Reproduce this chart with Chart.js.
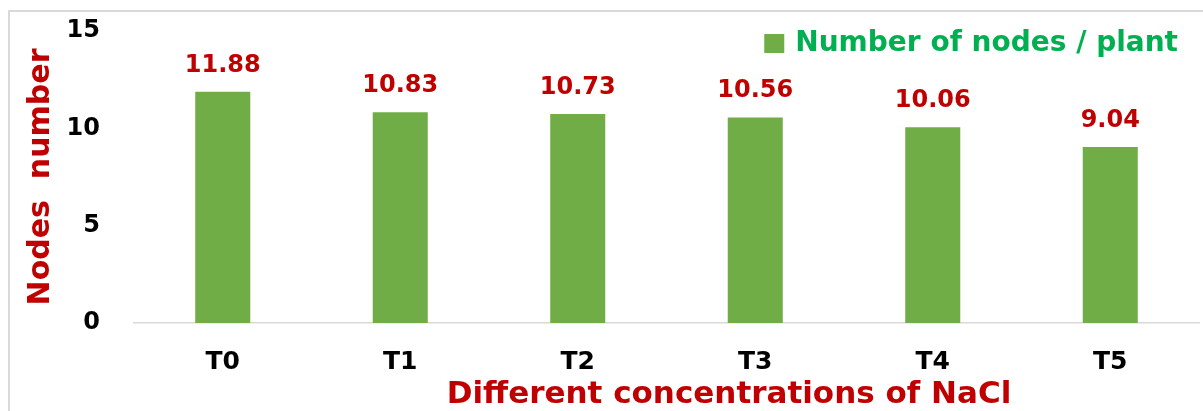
<!DOCTYPE html>
<html>
<head>
<meta charset="utf-8">
<script src="https://cdn.jsdelivr.net/npm/chart.js@4"></script>
<style>
    html, body { margin: 0; padding: 0; overflow: hidden; background: #fff; }
    #wrap { position: relative; width: 1203px; height: 411px; }
    #frame { position: absolute; left: 8px; top: 10px; width: 1300px; height: 500px; border: 2px solid #d9d9d9; }
    #nodesChart { position: absolute; left: 0; top: 0; }
</style>
</head>
<body>
<div id="wrap">
    <div id="frame"></div>
    <canvas id="nodesChart" width="1203" height="411"></canvas>
</div>
<script>
const treatments = ['T0', 'T1', 'T2', 'T3', 'T4', 'T5'];
const nodesPerPlant = [11.88, 10.83, 10.73, 10.56, 10.06, 9.04];
const yTicks = [0, 5, 10, 15];
const seriesLabel = 'Number of nodes / plant';
const xTitle = 'Different concentrations of NaCl';
const yTitle = 'Nodes  number';

const fontFamily = '"DejaVu Sans", sans-serif';
const darkRed = '#C00000';
const barGreen = '#70AD47';

// value labels above bars, legend in the top right corner, x title
const decorations = {
    id: 'decorations',
    afterDatasetsDraw(chart) {
        const { ctx, chartArea } = chart;
        const meta = chart.getDatasetMeta(0);
        ctx.save();

        ctx.font = `bold 24px ${fontFamily}`;
        ctx.fillStyle = darkRed;
        ctx.textAlign = 'center';
        ctx.textBaseline = 'alphabetic';
        meta.data.forEach((bar, i) => {
            ctx.fillText(nodesPerPlant[i].toFixed(2), bar.x, bar.y - 20);
        });

        ctx.font = `bold 28px ${fontFamily}`;
        const textWidth = ctx.measureText(seriesLabel).width;
        const textRight = chartArea.right - 21;
        const textLeft = textRight - textWidth;
        ctx.fillStyle = barGreen;
        ctx.fillRect(textLeft - 31, 34, 20, 19);
        ctx.fillStyle = '#00B050';
        ctx.textAlign = 'left';
        ctx.textBaseline = 'middle';
        ctx.fillText(seriesLabel, textLeft, 44);

        ctx.font = `bold 31px ${fontFamily}`;
        ctx.fillStyle = darkRed;
        ctx.textAlign = 'center';
        ctx.textBaseline = 'alphabetic';
        ctx.fillText(xTitle, 729, 403);

        ctx.restore();
    },
};

new Chart(document.getElementById('nodesChart'), {
    type: 'bar',
    data: {
        labels: treatments,
        datasets: [
            {
                label: seriesLabel,
                data: nodesPerPlant,
                backgroundColor: barGreen,
                categoryPercentage: 1,
                barPercentage: 0.31,
            },
        ],
    },
    options: {
        responsive: false,
        devicePixelRatio: 1,
        animation: false,
        layout: {
            padding: { top: 31, right: 4, bottom: 0, left: 0 },
        },
        plugins: {
            legend: { display: false },
            tooltip: { enabled: false },
        },
        scales: {
            x: {
                grid: { display: false, drawTicks: false },
                border: { display: true, color: '#d9d9d9', width: 1.5 },
                ticks: {
                    color: '#000',
                    padding: 24,
                    font: { family: fontFamily, size: 25, weight: 'bold' },
                },
                afterFit(scale) {
                    scale.height = 88;
                },
            },
            y: {
                min: 0,
                max: 15,
                grid: { display: false, drawTicks: false },
                border: { display: false },
                afterBuildTicks(scale) {
                    scale.ticks = yTicks.map((v) => ({ value: v }));
                },
                ticks: {
                    color: '#000',
                    padding: 34,
                    font: { family: fontFamily, size: 24, weight: 'bold' },
                },
                title: {
                    display: true,
                    text: yTitle,
                    color: darkRed,
                    padding: { top: 23, bottom: 0 },
                    font: { family: fontFamily, size: 30, weight: 'bold' },
                },
                afterFit(scale) {
                    scale.width = 134;
                    scale.paddingTop = 0;
                    scale.paddingBottom = 0;
                },
            },
        },
    },
    plugins: [decorations],
});
</script>
</body>
</html>
